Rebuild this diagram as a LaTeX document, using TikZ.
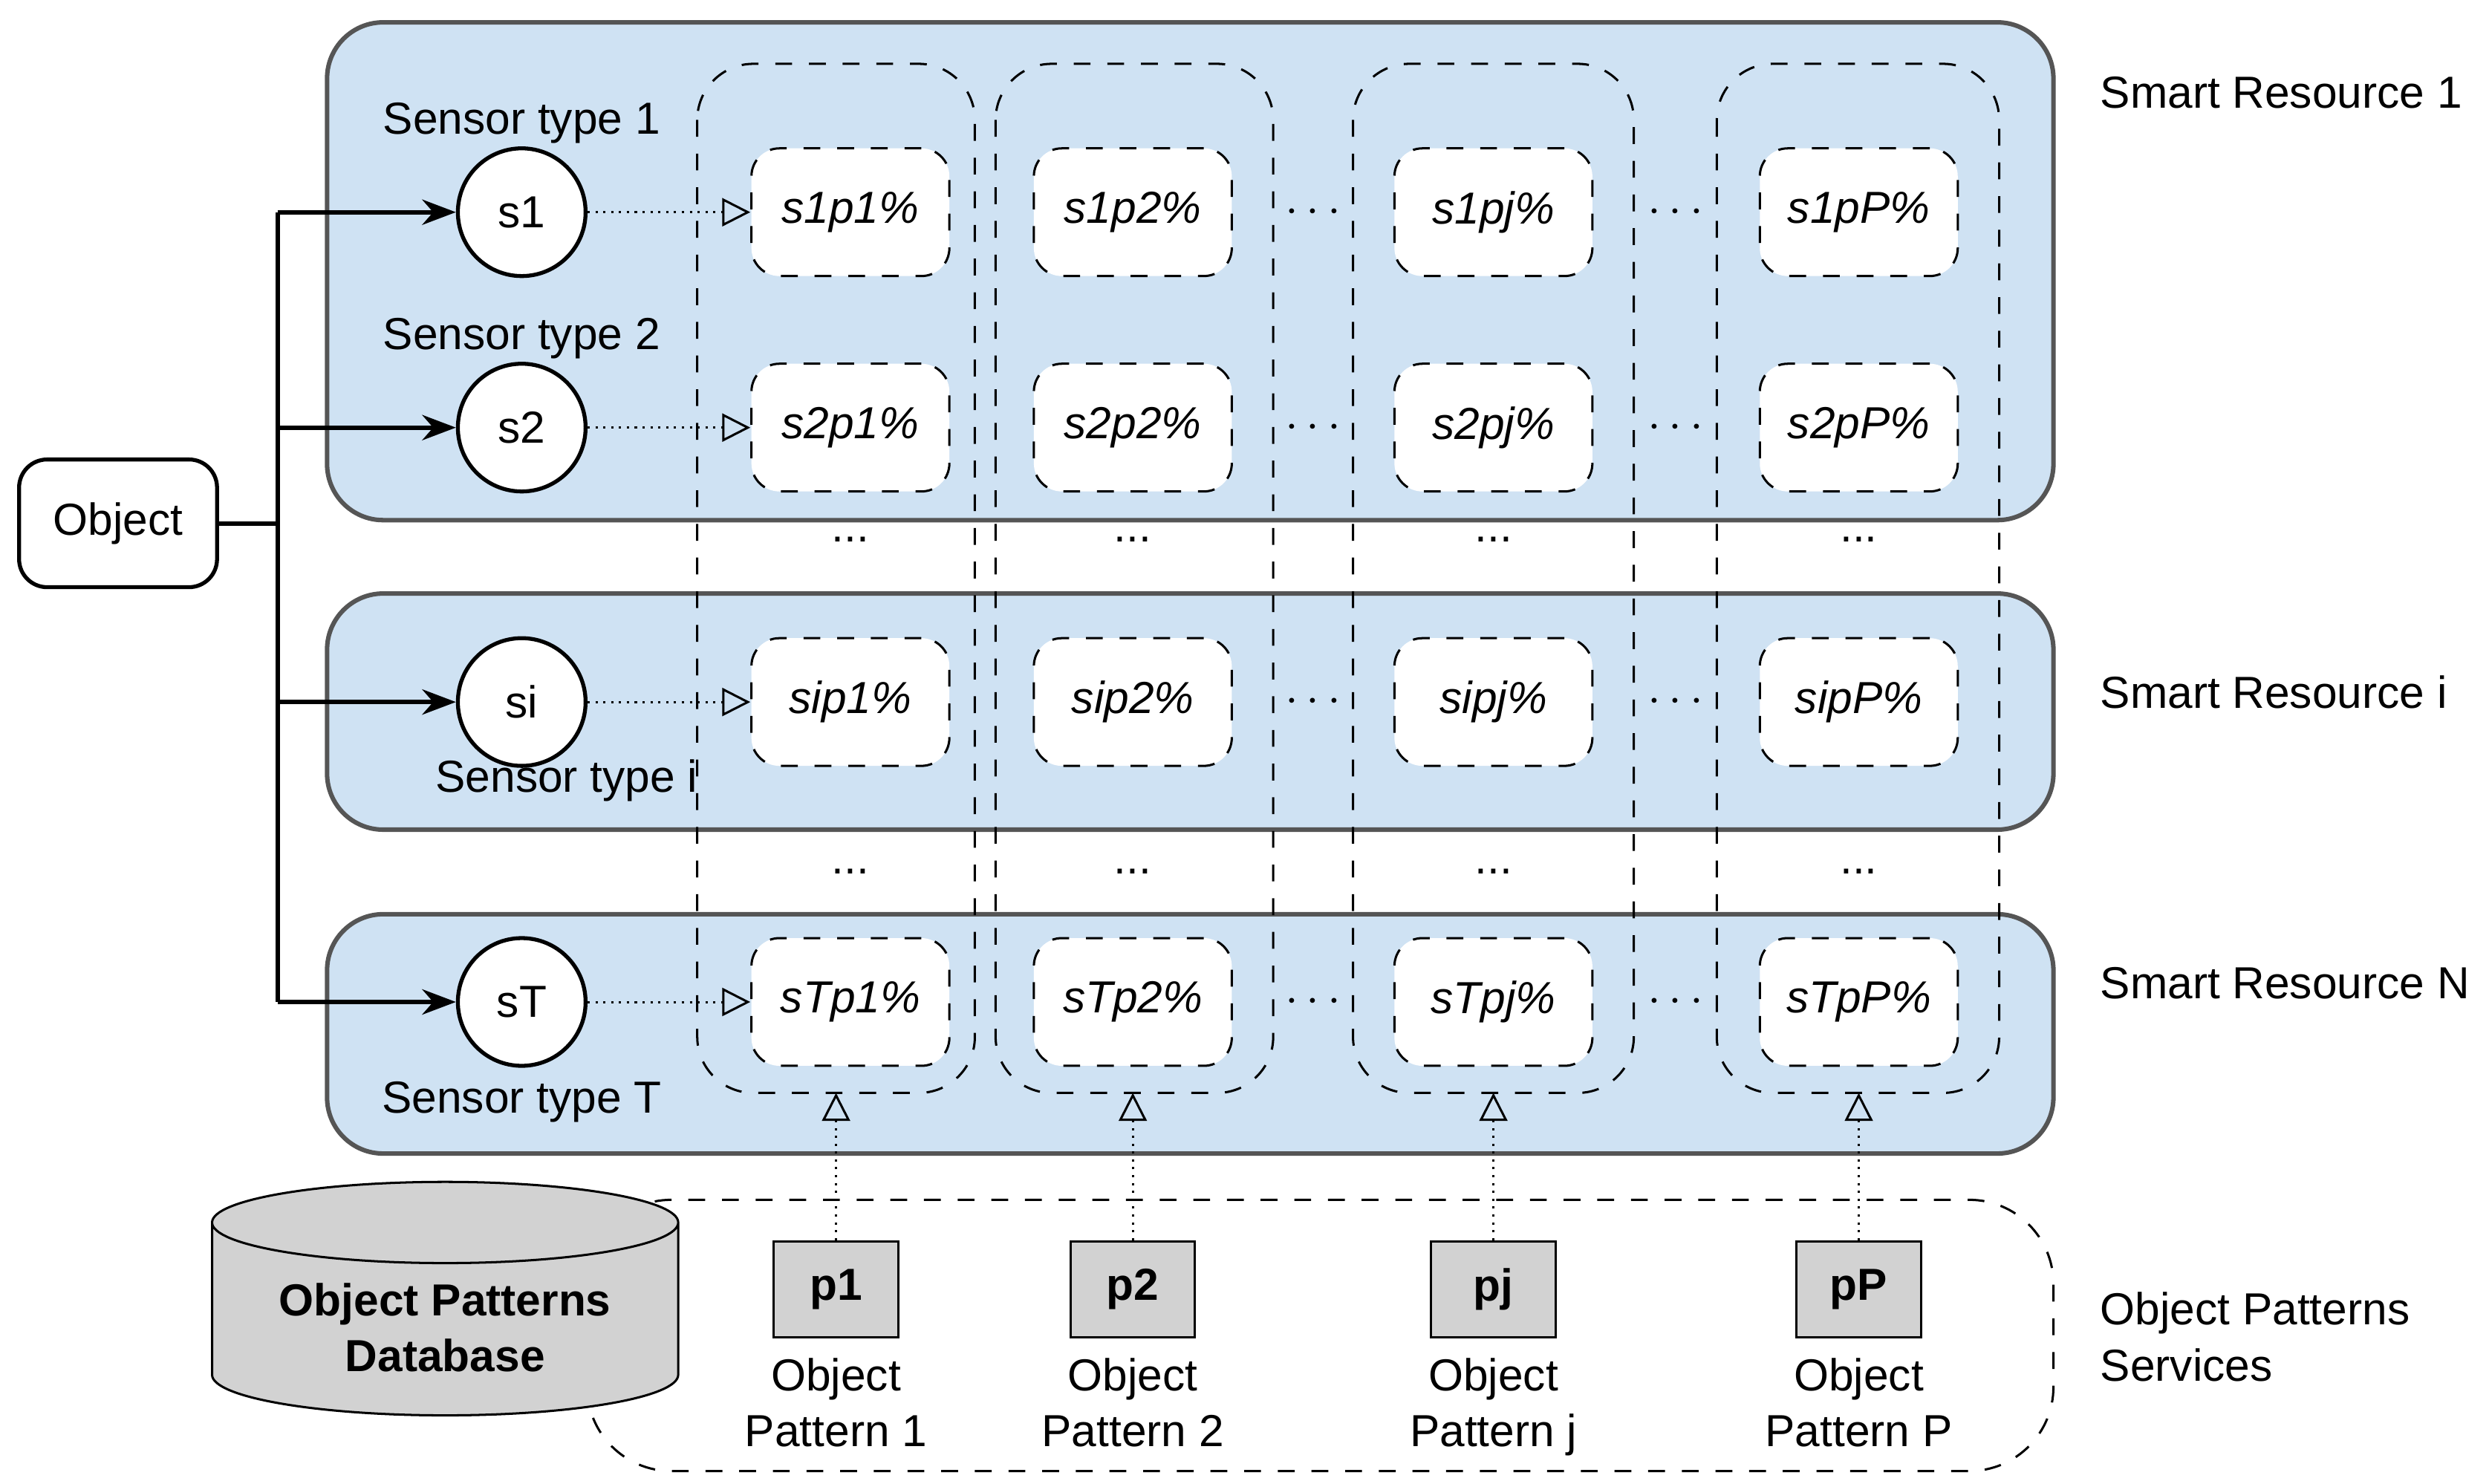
\documentclass[tikz,border=0pt]{standalone}
\usepackage{fontspec}
\setmainfont{Liberation Sans}
\usetikzlibrary{shapes.geometric,arrows.meta,positioning}
\definecolor{resblue}{HTML}{CFE2F3}
\definecolor{resline}{HTML}{555555}
\tikzset{
  resource/.style={draw=resline, fill=resblue, rounded corners=10pt, line width=0.8pt},
  sensor/.style={circle, draw, fill=white, minimum size=0.8cm, inner sep=0pt, line width=0.7pt},
  cell/.style={draw, dashed, fill=white, rounded corners=5pt, minimum width=1.24cm, minimum height=0.8cm, font=\fontsize{8}{10}\selectfont\itshape},
  column/.style={draw, dashed, rounded corners=10pt},
  pattern/.style={draw, fill=gray!35, minimum width=0.78cm, minimum height=0.6cm, font=\fontsize{8}{10}\selectfont\bfseries},
  feed/.style={densely dotted, -{Triangle[open,length=5pt,width=5pt]}},
  link/.style={line width=0.8pt, -{Stealth[length=6pt]}}
}
\begin{document}
\begin{tikzpicture}[x=0.01cm, y=-0.01cm, font=\fontsize{8}{10}\selectfont]
  \useasboundingbox (0,0) rectangle (1560,930);
  % smart resources
  \draw [resource] (205,14) rectangle (1287,326);
  \draw [resource] (205,372) rectangle (1287,520);
  \draw [resource] (205,573) rectangle (1287,723);
  \node [anchor=west] (r1) at (1304,58) {Smart Resource 1};
  \node [anchor=west] (ri) at (1304,434) {Smart Resource i};
  \node [anchor=west] (rN) at (1304,616) {Smart Resource N};
  \node [anchor=west, align=left] (rS) at (1304,838) {Object Patterns\\Services};
  % pattern columns
  \foreach \c/\xa/\xb in {1/437/611, 2/624/798, j/848/1024, P/1076/1253}
    \draw [column] (\xa,40) rectangle (\xb,685);
  % sensors and cells
  \foreach \r/\y in {1/133, 2/268, i/440, T/628} {
    \node [sensor] (s\r) at (327,\y) {s\r};
    \foreach \c/\x in {1/533, 2/710, j/936, P/1165}
      \node [cell] (s\r p\c) at (\x,\y) {s\r p\c\%};
    \draw [feed] (s\r) -- (s\r p1);
    \node at (823,\y) {$\cdots$};
    \node at (1050,\y) {$\cdots$};
  }
  \node [above=-3pt of s1] {Sensor type 1};
  \node [above=-3pt of s2] {Sensor type 2};
  \node [below=-5pt of si, xshift=8pt] {Sensor type i};
  \node [below=-1pt of sT] {Sensor type T};
  \foreach \x in {533, 710, 936, 1165} {
    \node at (\x,338) {...};
    \node at (\x,546) {...};
  }
  % object
  \node [draw, rounded corners=5pt, minimum width=1.24cm, minimum height=0.8cm, line width=0.7pt] (obj) at (74,328) {Object};
  \coordinate (hub) at (174,328);
  \draw [line width=0.8pt] (obj) -- (hub);
  \draw [line width=0.8pt] (hub |- s1) -- (hub |- sT);
  \foreach \r in {1,2,i,T}
    \draw [link] (hub |- s\r) -- (s\r);
  % object patterns services
  \draw [dashed, rounded corners=15pt] (368,752) rectangle (1287,922);
  \node [cylinder, shape border rotate=90, aspect=0.22, draw, fill=gray!35, minimum width=2.92cm, minimum height=1.05cm, align=center, font=\fontsize{8}{10}\selectfont\bfseries] (db) at (279,832) {Object Patterns\\Database};
  \foreach \c/\x/\n in {1/524/1, 2/710/2, j/936/j, P/1165/P} {
    \node [pattern] (p\c) at (\x,808) {p\c};
    \node [below=0pt of p\c, align=center] {Object\\Pattern \n};
    \coordinate (top\c) at (\x,685);
    \draw [feed] (p\c) -- (top\c);
  }
\end{tikzpicture}
\end{document}
